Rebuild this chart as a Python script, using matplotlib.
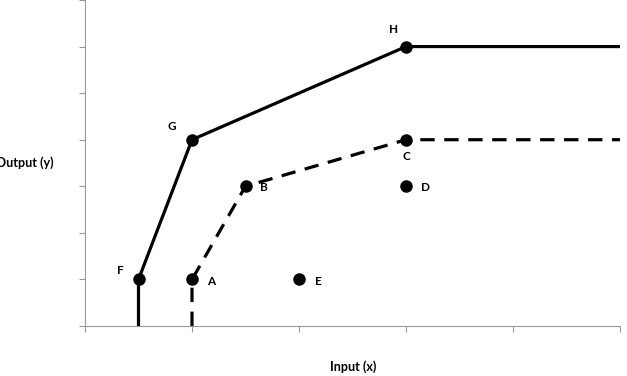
import matplotlib
matplotlib.use('Agg')
import matplotlib.pyplot as plt

# frontier lines
solid_x = [0.5, 0.5, 1, 3, 5]
solid_y = [0, 1, 4, 6, 6]
dashed_x = [1, 1, 1.5, 3, 5]
dashed_y = [0, 1, 3, 4, 4]

# labelled points
pt_names = ['F', 'G', 'H', 'A', 'B', 'C', 'D', 'E']
pt_x = [0.5, 1, 3, 1, 1.5, 3, 3, 2]
pt_y = [1, 4, 6, 1, 3, 4, 3, 1]
# label offsets (pixels)
offsets = {'F': (-18, 9), 'G': (-20, 13), 'H': (-12, 17), 'A': (19, -2),
           'B': (18, -1), 'C': (0, -17), 'D': (19, -1), 'E': (19, -2)}

plt.rcParams['font.family'] = ['Lato', 'DejaVu Sans']

fig = plt.figure(figsize=(6.27, 3.76), dpi=100)
ax = fig.add_axes([85/627, 50/376, 535/627, 326/376])

ax.plot(solid_x, solid_y, color='black', lw=2.3, solid_capstyle='butt')
ax.plot(dashed_x, dashed_y, color='black', lw=2.3, ls=(0, (4.5, 3)))
ax.plot(pt_x, pt_y, 'o', color='black', ms=8, zorder=3)

for n, x, y in zip(pt_names, pt_x, pt_y):
    ax.annotate(n, (x, y), xytext=offsets[n], textcoords='offset pixels',
                ha='center', va='center', fontsize=8.5, fontweight='bold')

ax.set_xlim(0, 5)
ax.set_ylim(0, 7)
ax.set_xticks(range(0, 6))
ax.set_yticks(range(0, 8))
ax.set_xticklabels([])
ax.set_yticklabels([])
ax.tick_params(direction='out', length=4, color='#999999', width=0.8)
for s in ['top', 'right']:
    ax.spines[s].set_visible(False)
for s in ['left', 'bottom']:
    ax.spines[s].set_color('#999999')
    ax.spines[s].set_linewidth(0.8)
    ax.spines[s].set_clip_on(False)

fig.text(25/627, 1 - 163/376, 'Output (y)', ha='center', va='center',
         fontsize=9, fontweight='bold')
fig.text(353/627, 1 - 367/376, 'Input (x)', ha='center', va='center',
         fontsize=9, fontweight='bold')

fig.savefig('out.png', dpi=100)
